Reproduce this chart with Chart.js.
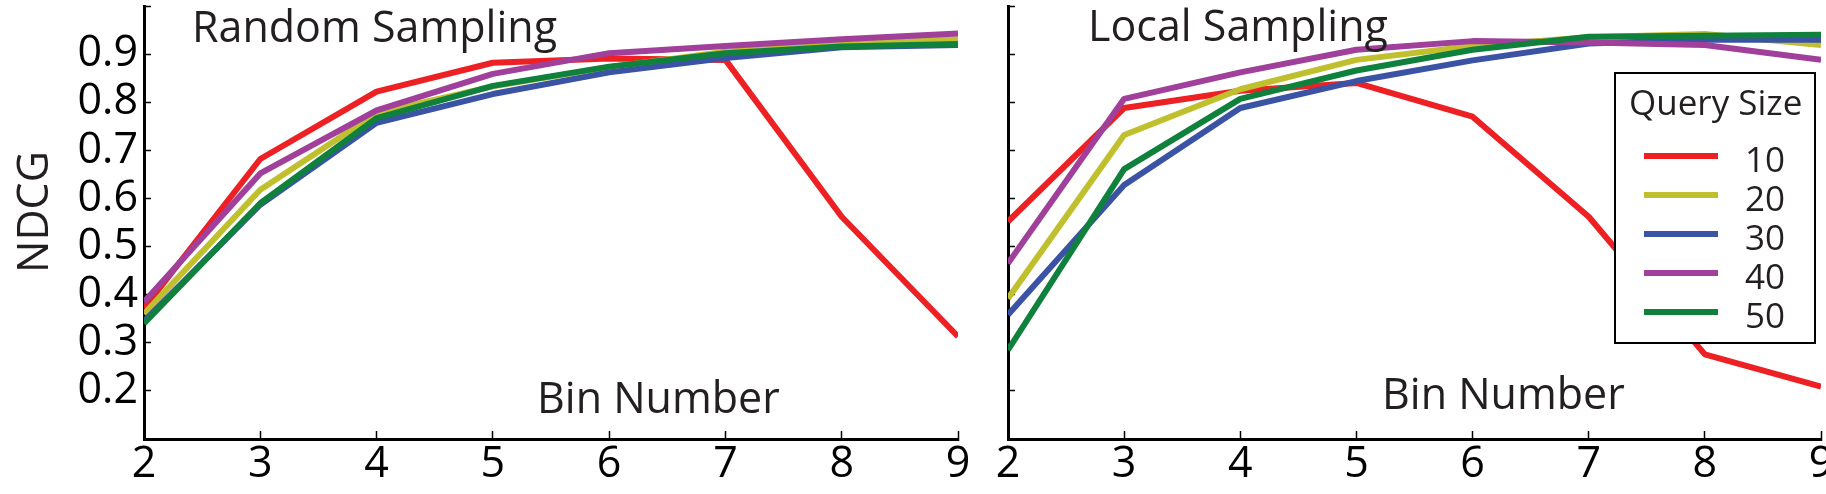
<!DOCTYPE html>
<html>
<head>
<meta charset="utf-8">
<script src="https://cdn.jsdelivr.net/npm/chart.js@4.4.1/dist/chart.umd.min.js"></script>
<style>
  html, body { margin: 0; padding: 0; background: #fff; }
  #wrap { position: relative; width: 1826px; height: 494px; overflow: hidden; }
  .panel { position: absolute; top: 0; height: 494px; }
  #left { left: 0; width: 975px; }
  #right { left: 985px; width: 841px; }
</style>
</head>
<body>
<div id="wrap">
  <div class="panel" id="left"><canvas id="randomChart"></canvas></div>
  <div class="panel" id="right"><canvas id="localChart"></canvas></div>
</div>
<script>
// x values (bin number) and legend entries
const binNumbers = [2, 3, 4, 5, 6, 7, 8, 9];
const querySizes = ['10', '20', '30', '40', '50'];
const seriesColors = ['#ed2024', '#c0c02e', '#3a53a4', '#a0409a', '#10803d'];
const yTicksShown = [0.2, 0.3, 0.4, 0.5, 0.6, 0.7, 0.8, 0.9];

// Random Sampling panel, NDCG per query size
const randomQ10 = [0.372, 0.682, 0.822, 0.882, 0.891, 0.888, 0.562, 0.313];
const randomQ20 = [0.360, 0.618, 0.777, 0.833, 0.873, 0.905, 0.924, 0.931];
const randomQ30 = [0.345, 0.587, 0.757, 0.817, 0.862, 0.892, 0.914, 0.919];
const randomQ40 = [0.385, 0.652, 0.783, 0.859, 0.902, 0.917, 0.931, 0.943];
const randomQ50 = [0.340, 0.590, 0.767, 0.834, 0.874, 0.902, 0.916, 0.921];

// Local Sampling panel
const localQ10 = [0.552, 0.788, 0.824, 0.840, 0.770, 0.562, 0.276, 0.209];
const localQ20 = [0.392, 0.732, 0.827, 0.888, 0.917, 0.935, 0.942, 0.919];
const localQ30 = [0.358, 0.628, 0.788, 0.844, 0.887, 0.922, 0.930, 0.930];
const localQ40 = [0.465, 0.807, 0.862, 0.909, 0.927, 0.924, 0.919, 0.888];
const localQ50 = [0.285, 0.661, 0.807, 0.866, 0.909, 0.936, 0.938, 0.940];

Chart.defaults.font.family = "'Open Sans', sans-serif";
Chart.defaults.color = '#000';

const TEXT_COLOR = '#231f20';

// free text placed on the canvas (panel titles, axis names)
const panelText = {
  id: 'panelText',
  afterDraw(chart, args, opts) {
    const ctx = chart.ctx;
    (opts.items || []).forEach(it => {
      ctx.save();
      ctx.fillStyle = TEXT_COLOR;
      ctx.font = it.size + "px 'Open Sans'";
      ctx.textBaseline = 'alphabetic';
      ctx.textAlign = it.align || 'left';
      ctx.translate(it.x, it.y);
      if (it.rotate) ctx.rotate(it.rotate);
      ctx.fillText(it.text, 0, 0);
      ctx.restore();
    });
  }
};

// boxed legend drawn inside the plot, built from the datasets
const boxLegend = {
  id: 'boxLegend',
  afterDraw(chart, args, opts) {
    if (!opts.show) return;
    const ctx = chart.ctx;
    const { x, y, w, h } = opts.box;
    ctx.save();
    ctx.fillStyle = '#fff';
    ctx.fillRect(x, y, w, h);
    ctx.strokeStyle = '#000';
    ctx.lineWidth = 2;
    ctx.strokeRect(x, y, w, h);
    ctx.fillStyle = TEXT_COLOR;
    ctx.font = "35px 'Open Sans'";
    ctx.textAlign = 'left';
    ctx.textBaseline = 'alphabetic';
    ctx.fillText(opts.title, x + 14, y + 42);
    const sorted = chart.data.datasets.slice().sort((a, b) => a.legendIndex - b.legendIndex);
    sorted.forEach((ds, i) => {
      const ly = y + 83 + i * 39;
      ctx.strokeStyle = ds.borderColor;
      ctx.lineWidth = 6;
      ctx.beginPath();
      ctx.moveTo(x + 29, ly);
      ctx.lineTo(x + 103, ly);
      ctx.stroke();
      ctx.fillStyle = TEXT_COLOR;
      ctx.fillText(ds.label, x + 130, ly + 16);
    });
    ctx.restore();
  }
};

function makeDatasets(seriesList) {
  return seriesList.map((vals, i) => ({
    label: querySizes[i],
    legendIndex: i,
    data: binNumbers.map((b, j) => ({ x: b, y: vals[j] })),
    borderColor: seriesColors[i],
    backgroundColor: seriesColors[i],
    borderWidth: 6,
    pointRadius: 0,
    tension: 0,
    fill: false,
    borderJoinStyle: 'round',
    order: seriesList.length - i   // last series drawn on top
  }));
}

function makePanel(canvasId, seriesList, cfg) {
  return new Chart(document.getElementById(canvasId), {
    type: 'line',
    data: { datasets: makeDatasets(seriesList) },
    plugins: [panelText, boxLegend],
    options: {
      responsive: true,
      maintainAspectRatio: false,
      animation: false,
      events: [],
      layout: { autoPadding: false, padding: { top: 6, right: cfg.padRight, left: 0, bottom: 0 } },
      plugins: {
        legend: { display: false },
        tooltip: { enabled: false },
        panelText: { items: cfg.texts },
        boxLegend: cfg.legend
      },
      scales: {
        x: {
          type: 'linear',
          min: 2,
          max: 9,
          border: { color: '#000', width: 3 },
          grid: { drawOnChartArea: false, tickLength: -8, tickWidth: 1.5, color: '#000', tickColor: '#000' },
          ticks: { stepSize: 1, autoSkip: false, maxRotation: 0, padding: 8, color: '#000', font: { size: 43 } },
          afterFit(s) { s.height = 55; s.paddingLeft = 0; s.paddingRight = 0; }
        },
        y: {
          type: 'linear',
          min: 0.1,
          max: 1.0,
          border: { color: '#000', width: 3 },
          grid: { drawOnChartArea: false, tickLength: -7, tickWidth: 1.5, color: '#000', tickColor: '#000' },
          ticks: {
            stepSize: 0.1,
            autoSkip: false,
            padding: 13,
            color: '#000',
            font: { size: 43 },
            callback(v) {
              if (!cfg.yLabels) return '';
              const r = Math.round(v * 10) / 10;
              return yTicksShown.includes(r) ? r.toFixed(1) : '';
            }
          },
          afterFit(s) { s.width = cfg.yWidth; s.paddingTop = 0; s.paddingBottom = 0; }
        }
      }
    }
  });
}

makePanel('randomChart', [randomQ10, randomQ20, randomQ30, randomQ40, randomQ50], {
  padRight: 17,
  yWidth: 144,
  yLabels: true,
  texts: [
    { text: 'Random Sampling', x: 192, y: 42, size: 43 },
    { text: 'Bin Number', x: 537, y: 413, size: 43 },
    { text: 'NDCG', x: 48, y: 212, size: 43, align: 'center', rotate: -Math.PI / 2 }
  ],
  legend: { show: false }
});

makePanel('localChart', [localQ10, localQ20, localQ30, localQ40, localQ50], {
  padRight: 5,
  yWidth: 23,
  yLabels: false,
  texts: [
    { text: 'Local Sampling', x: 103, y: 41, size: 43 },
    { text: 'Bin Number', x: 397, y: 409, size: 43 }
  ],
  legend: { show: true, title: 'Query Size', box: { x: 630, y: 73, w: 200, h: 270 } }
});
</script>
</body>
</html>
